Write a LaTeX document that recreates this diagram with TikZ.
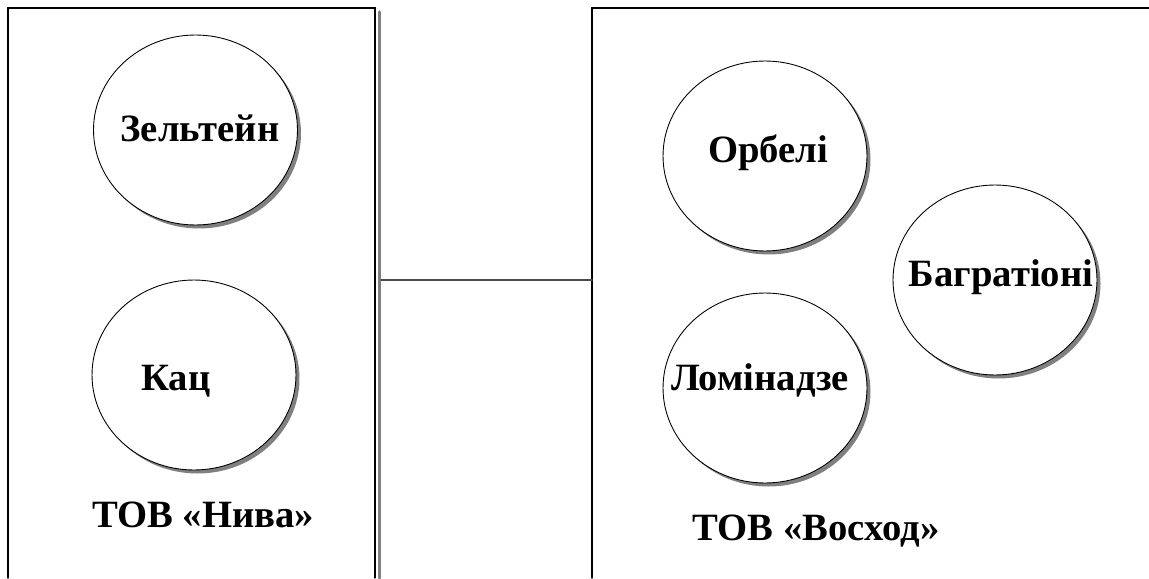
\documentclass[tikz,border=0pt]{standalone}
\usepackage{fontspec}
\setmainfont{Liberation Serif}
\usetikzlibrary{shapes.geometric,shadows}

\begin{document}
\begin{tikzpicture}
		[x=0.02cm,y=-0.02cm,line cap=round,
		%Styles
		frame line/.style={line width=0.6pt},
		double edge/.style={line width=2pt,gray},
		link line/.style={line width=0.8pt,black!70},
		person/.style={ellipse,draw,line width=0.5pt,fill=white,inner sep=0pt,
			minimum width=4.08cm,minimum height=3.8cm,
			drop shadow={shadow xshift=2pt,shadow yshift=-2pt,fill=gray,opacity=1}},
		name text/.style={font=\fontsize{22}{26}\selectfont\bfseries,anchor=base,inner sep=0pt},
		firm text/.style={name text}
		]
		
		\useasboundingbox (0,0) rectangle (1149,578);
		
		%Frames
		\draw[frame line] (8,578) -- (8,8) -- (375,8) -- (375,578);
		\draw[double edge] (379.5,12) -- (379.5,578);
		\draw[frame line] (592,578) -- (592,8) -- (1149,8);
		
		%The graphic
		\node[person] (zeltein) at (195.5,130) {};
		\node[person] (kats) at (194,375) {};
		\node[person] (orbeli) at (765,156) {};
		\node[person] (bagrationi) at (995,280) {};
		\node[person] (lominadze) at (765,388) {};
		
		\node[name text] (zelteinText) at (200,141) {Зельтейн};
		\node[name text] (katsText) at (176,390) {Кац};
		\node[name text] (orbeliText) at (768,162) {Орбелі};
		\node[name text] (bagrationiText) at (1001,286) {Багратіоні};
		\node[name text] (lominadzeText) at (760,390) {Ломінадзе};
		
		\node[firm text] (niva) at (203,527) {ТОВ «Нива»};
		\node[firm text] (voskhod) at (816,540) {ТОВ «Восход»};
		
		%Link between the firms
		\coordinate (nivaEdge) at (381,280);
		\coordinate (voskhodEdge) at (592,280);
		\draw[link line] (nivaEdge) -- (voskhodEdge);
	\end{tikzpicture}
\end{document}
